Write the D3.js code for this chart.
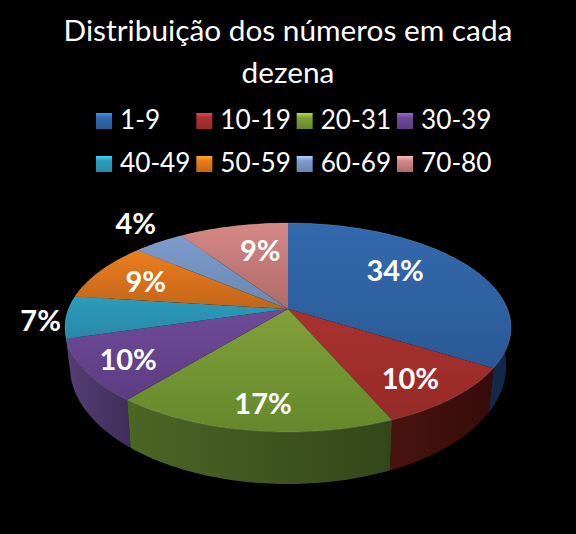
<!DOCTYPE html>
<html>
<head>
<meta charset="utf-8">
<script src="https://cdn.jsdelivr.net/npm/d3@7"></script>
<style>
    html, body { margin: 0; padding: 0; background: #000; }
    svg { display: block; }
    text { fill: #fff; font-family: Lato, "Open Sans", sans-serif; }
</style>
</head>
<body>
<div id="pieChart"></div>
<script>
    // data
    var categories = ["1-9", "10-19", "20-31", "30-39", "40-49", "50-59", "60-69", "70-80"];
    var shares = [33.9, 9.6, 17.4, 9.6, 6.5, 9.2, 4.4, 9.4];
    var titleLines = ["Distribuição dos números em cada", "dezena"];

    // colours for each slice: top face light/dark, side light/dark
    var topLight = ["#3269ad", "#a93230", "#80a03a", "#6f4b98", "#2b9cbd", "#ec7d1d", "#7c9bcb", "#d48886"];
    var topDark = ["#2a5a96", "#962a28", "#66882c", "#5c3c82", "#2a88a6", "#c2651a", "#6888b2", "#ae6a68"];
    var sideLight = ["#1c3c6a", "#4a130f", "#4c6624", "#543e76", "#1c5f75", "#8a4a12", "#4a6080", "#7a4a48"];
    var sideDark = ["#132746", "#340c0a", "#33461a", "#3f2e58", "#123f4e", "#5c310c", "#324056", "#523230"];

    // where the labels sit: fraction of the radius, and turn off the slice middle in degrees
    var labelRadius = [0.66, 0.79, 0.81, 0.81, 1.11, 0.735, 1.29, 0.655];
    var labelTurn = [-8.6, 1.7, -1, -0.8, -1.5, -1.4, 2.5, 4.5];

    var width = 576, height = 534;

    var svg = d3.select("#pieChart")
        .append("svg")
            .attr("width", width)
            .attr("height", height);

    var defs = svg.append("defs");

    function addGradient(id, horizontal, stops) {
        var g = defs.append("linearGradient")
            .attr("id", id)
            .attr("x1", 0).attr("y1", 0)
            .attr("x2", horizontal ? 1 : 0)
            .attr("y2", horizontal ? 0 : 1);
        stops.forEach(function(s) {
            g.append("stop").attr("offset", s[0]).attr("stop-color", s[1]);
        });
    }

    categories.forEach(function(c, i) {
        addGradient("top" + i, false, [[0, topLight[i]], [1, topDark[i]]]);
        addGradient("side" + i, true, [[0, sideLight[i]], [1, sideDark[i]]]);
        addGradient("key" + i, false, [[0, d3.rgb(topLight[i]).brighter(0.9)], [0.3, topLight[i]], [1, topDark[i]]]);
    });

    // the pie is tilted in perspective, so the middle is not the middle of the ellipse
    var topFace = {cx: 288, cy: 309, a: 219.5, b: 101.2, p: 0.177};
    var bottomFace = {cx: 288, cy: 345.5, a: 214.7, b: 114, p: 0.177};

    function project(face, angle, r) {
        var w = 1 + face.p * r * Math.cos(angle);
        return [
            face.cx + face.a * r * Math.sin(angle) / w,
            face.cy - face.b * r * Math.cos(angle) / w
        ];
    }

    function rim(face, start, end) {
        var steps = Math.max(2, Math.ceil(Math.abs(end - start) / 0.02));
        return d3.range(steps + 1).map(function(k) {
            return project(face, start + (end - start) * k / steps, 1);
        });
    }

    var line = d3.line();

    var slices = d3.pie().sort(null).value(function(d) { return d; })(shares);

    // sides first, far ones before near ones
    var sideOrder = slices.slice().sort(function(p, q) {
        return Math.cos((q.startAngle + q.endAngle) / 2) - Math.cos((p.startAngle + p.endAngle) / 2);
    });

    svg.append("g").selectAll("path")
        .data(sideOrder)
        .enter()
        .append("path")
            .attr("d", function(d) {
                var pts = rim(topFace, d.startAngle, d.endAngle)
                    .concat(rim(bottomFace, d.endAngle, d.startAngle));
                return line(pts) + "Z";
            })
            .attr("fill", function(d) { return "url(#side" + d.index + ")"; });

    // top faces
    svg.append("g").selectAll("path")
        .data(slices)
        .enter()
        .append("path")
            .attr("d", function(d) {
                var pts = [[topFace.cx, topFace.cy]].concat(rim(topFace, d.startAngle, d.endAngle));
                return line(pts) + "Z";
            })
            .attr("fill", function(d) { return "url(#top" + d.index + ")"; });

    // thin light bevel along the near rim
    svg.append("g").selectAll("path")
        .data(slices)
        .enter()
        .append("path")
            .attr("d", function(d) { return line(rim(topFace, d.startAngle, d.endAngle)); })
            .attr("fill", "none")
            .attr("stroke", "#fff")
            .attr("stroke-opacity", 0.14)
            .attr("stroke-width", 1);

    // percentage labels
    svg.append("g").selectAll("text")
        .data(slices)
        .enter()
        .append("text")
            .attr("transform", function(d) {
                var mid = (d.startAngle + d.endAngle) / 2 + labelTurn[d.index] * Math.PI / 180;
                return "translate(" + project(topFace, mid, labelRadius[d.index]) + ")";
            })
            .attr("text-anchor", "middle")
            .attr("dy", "0.36em")
            .style("font-size", "29px")
            .style("font-weight", 700)
            .text(function(d) { return Math.round(d.value) + "%"; });

    // title
    svg.append("g").selectAll("text")
        .data(titleLines)
        .enter()
        .append("text")
            .attr("x", 288)
            .attr("y", function(d, i) { return 41 + i * 42; })
            .attr("text-anchor", "middle")
            .style("font-size", "29.8px")
            .text(function(d) { return d; });

    // legend: two rows of four
    var keyX = d3.scalePoint().domain(d3.range(4)).range([96, 397]);
    var keyY = d3.scalePoint().domain(d3.range(2)).range([113, 156]);

    var keys = svg.append("g").selectAll("g")
        .data(categories)
        .enter()
        .append("g")
            .attr("transform", function(d, i) {
                return "translate(" + keyX(i % 4) + "," + keyY(Math.floor(i / 4)) + ")";
            });

    keys.append("rect")
        .attr("width", 16)
        .attr("height", 16)
        .attr("fill", function(d, i) { return "url(#key" + i + ")"; });

    keys.append("text")
        .attr("x", 24)
        .attr("y", 15.5)
        .style("font-size", "26.2px")
        .text(function(d) { return d; });
</script>
</body>
</html>
